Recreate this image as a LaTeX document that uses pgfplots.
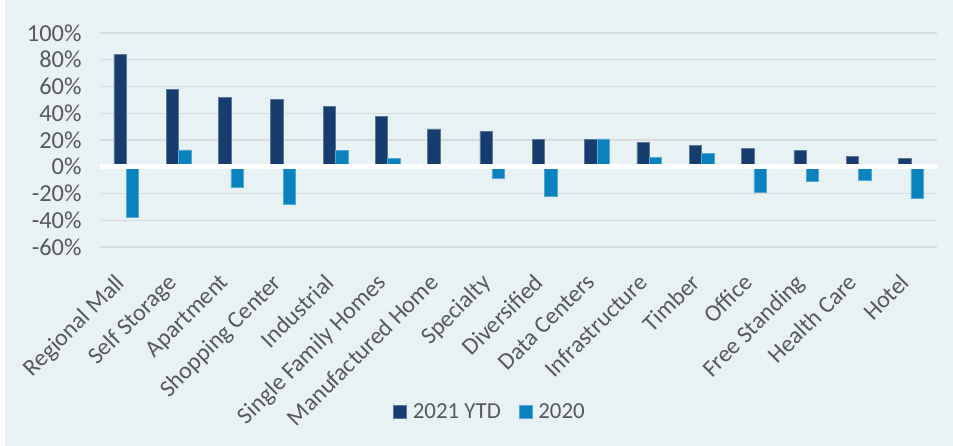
\documentclass[border=0pt]{standalone}
\usepackage{pgfplots}
\pgfplotsset{compat=1.18}
\usepackage{fontspec}
\setmainfont{Carlito}
\definecolor{bgcol}{HTML}{E8F1F4}
\definecolor{navy}{HTML}{173D6E}
\definecolor{sky}{HTML}{0A82BE}
\definecolor{gridc}{HTML}{D9DBDC}
\definecolor{txt}{HTML}{595959}
\begin{document}
\begin{tikzpicture}
\useasboundingbox (0,0) rectangle (953bp,446bp);
\fill[bgcol] (0,0) rectangle (953bp,446bp);
\fill[white] (0,0) rectangle (5bp,446bp);
\begin{axis}[
  at={(100bp,199bp)}, anchor=south west,
  scale only axis, width=837bp, height=214bp,
  xmin=-0.5, xmax=15.5, ymin=-60, ymax=100,
  ybar=0pt, bar width=12.4bp,
  axis line style={draw=none}, tick style={draw=none},
  ymajorgrids, grid style={gridc, line width=1.4bp},
  ytick={-60,-40,-20,0,20,40,60,80,100},
  yticklabels={\mbox{-60\%},\mbox{-40\%},\mbox{-20\%},\mbox{0\%},\mbox{20\%},\mbox{40\%},\mbox{60\%},\mbox{80\%},\mbox{100\%}},
  yticklabel style={font=\fontsize{24.5}{25}\selectfont, text=txt, xshift=-15bp},
  xtick={0,...,15},
  xticklabels={Regional Mall,Self Storage,Apartment,Shopping Center,Industrial,Single Family Homes,Manufactured Home,Specialty,Diversified,Data Centers,Infrastructure,Timber,Office,Free Standing,Health Care,Hotel},
  xticklabel style={font=\fontsize{24}{24}\selectfont, text=txt, xshift=-12bp, yshift=-21bp, rotate=45, anchor=north east, inner sep=0pt},
  legend style={at={(0.466,-0.771)}, anchor=center, draw=none, fill=none, legend columns=2,
    font=\fontsize{23}{23}\selectfont, text=txt,
    /tikz/every odd column/.append style={column sep=4bp},
    /tikz/every even column/.append style={column sep=16bp}},
  legend image code/.code={\fill[#1] (0bp,-6.5bp) rectangle (13bp,6.5bp);},
]
\addplot[fill=navy, draw=navy!70!white, line width=0.5bp] coordinates {
(0,83.8) (1,57.6) (2,52.1) (3,50.6) (4,45.4) (5,37.4) (6,28.4) (7,26.7)
(8,20.4) (9,20.2) (10,18.5) (11,16.2) (12,13.5) (13,12.5) (14,7.7) (15,6.2)};
\addplot[fill=sky, draw=sky!70!white, line width=0.5bp] coordinates {
(0,-37.4) (1,12.7) (2,-15.5) (3,-27.7) (4,12.0) (5,6.0) (6,0) (7,-8.5)
(8,-21.9) (9,20.9) (10,7.2) (11,10.2) (12,-18.7) (13,-10.7) (14,-10.2) (15,-23.9)};
\legend{2021 YTD,2020}
\draw[white, line width=5bp] (axis cs:-0.5,0) -- (axis cs:15.5,0);
\end{axis}
\end{tikzpicture}
\end{document}
